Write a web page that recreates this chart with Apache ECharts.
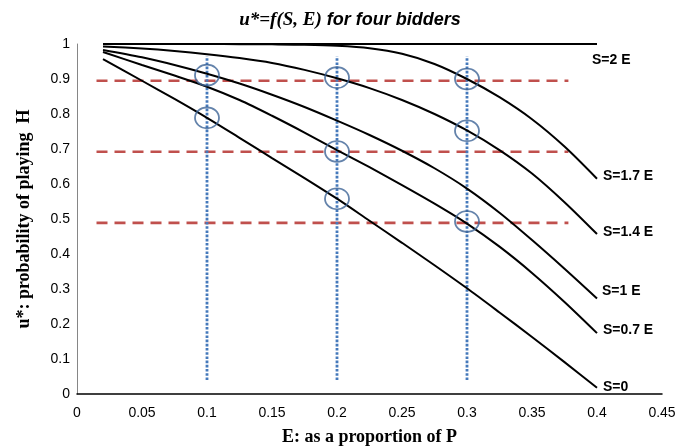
<!DOCTYPE html>
<html>
<head>
<meta charset="utf-8">
<script src="https://cdn.jsdelivr.net/npm/echarts@6/dist/echarts.min.js"></script>
<style>html,body{margin:0;padding:0;background:#fff}#c{width:677px;height:446px}</style>
</head>
<body>
<div id="c"></div>
<script>
// E values (proportion of P)
const E = [0.02, 0.05, 0.075, 0.1, 0.125, 0.15, 0.175, 0.2, 0.225, 0.25, 0.275, 0.3, 0.325, 0.35, 0.375, 0.4];
const seriesNames = ['S=2 E', 'S=1.7 E', 'S=1.4 E', 'S=1 E', 'S=0.7 E', 'S=0'];
const uS2   = [1, 1, 1, 1, 1, 1, 1, 1, 1, 1, 1, 1, 1, 1, 1, 1];
const uS17  = [1, 1, 1, 1, 0.9995, 0.999, 0.998, 0.995, 0.988, 0.972, 0.943, 0.9, 0.848, 0.785, 0.707, 0.615];
const uS14  = [0.993, 0.987, 0.98, 0.971, 0.96, 0.946, 0.926, 0.902, 0.874, 0.84, 0.8, 0.753, 0.697, 0.63, 0.548, 0.457];
const uS1   = [0.983, 0.962, 0.94, 0.915, 0.887, 0.855, 0.82, 0.781, 0.74, 0.695, 0.645, 0.587, 0.518, 0.44, 0.358, 0.273];
const uS07  = [0.977, 0.94, 0.91, 0.878, 0.84, 0.795, 0.747, 0.697, 0.648, 0.597, 0.544, 0.487, 0.421, 0.346, 0.263, 0.174];
const uS0   = [0.957, 0.895, 0.843, 0.789, 0.732, 0.674, 0.617, 0.558, 0.495, 0.432, 0.368, 0.302, 0.233, 0.163, 0.091, 0.018];
const curves = [uS2, uS17, uS14, uS1, uS07, uS0];

// horizontal reference levels (red dashed) and their E range
const hLevels = [0.895, 0.692, 0.489];
const hRange = [0.015, 0.378];
// vertical reference E values (blue dotted) and their u range
const vLevels = [0.1, 0.2, 0.3];
const vRange = [0.04, 0.965];
// circled points
const circleE = [0.1, 0.1, 0.2, 0.2, 0.2, 0.3, 0.3, 0.3];
const circleU = [0.911, 0.789, 0.904, 0.693, 0.558, 0.9, 0.752, 0.493];

const xTickLabels = ['0', '0.05', '0.1', '0.15', '0.2', '0.25', '0.3', '0.35', '0.4', '0.45'];
const yTickLabels = ['0', '0.1', '0.2', '0.3', '0.4', '0.5', '0.6', '0.7', '0.8', '0.9', '1'];

const labelOffsets = [[-11, 16], [0, -3], [0, -2], [-1, -7], [0, -3], [0, -1]];

const series = [];
hLevels.forEach(function (v) {
  series.push({
    type: 'line', silent: true, symbol: 'none', z: 1,
    data: [[hRange[0], v], [hRange[1], v]],
    lineStyle: { color: '#c0504d', width: 2.6, type: [11, 7] }
  });
});
vLevels.forEach(function (e) {
  series.push({
    type: 'line', silent: true, symbol: 'none', z: 1,
    data: [[e, vRange[0]], [e, vRange[1]]],
    lineStyle: { color: '#4579bb', width: 2.8, type: [2.6, 1.6] }
  });
});
curves.forEach(function (arr, i) {
  series.push({
    name: seriesNames[i], type: 'line', symbol: 'none', smooth: 0.3, z: 3,
    data: E.map(function (e, j) { return [e, arr[j]]; }),
    lineStyle: { color: '#000', width: 2 },
    endLabel: {
      show: true, formatter: seriesNames[i], distance: 6, offset: labelOffsets[i],
      fontFamily: 'Liberation Sans', fontWeight: 'bold', fontSize: 14, color: '#000'
    }
  });
});
series.push({
  type: 'scatter', silent: true, z: 5,
  data: circleE.map(function (e, i) { return [e, circleU[i]]; }),
  symbol: 'circle', symbolSize: [24, 21],
  itemStyle: { color: 'rgba(0,0,0,0)', borderColor: '#3d6496', borderWidth: 1.7 }
});

const chart = echarts.init(document.getElementById('c'), null, { renderer: 'canvas' });
chart.setOption({
  animation: false,
  backgroundColor: '#fff',
  title: {
    text: '{a|u*=f(S, E)}{b| for four bidders}',
    left: 345, top: 6, textAlign: 'center',
    textStyle: {
      rich: {
        a: { fontFamily: 'Liberation Serif', fontStyle: 'italic', fontWeight: 'bold', fontSize: 19, color: '#000' },
        b: { fontFamily: 'Liberation Sans', fontStyle: 'italic', fontWeight: 'bold', fontSize: 18, color: '#000' }
      }
    }
  },
  grid: { left: 77, right: 15, top: 44, bottom: 52, containLabel: false, outerBoundsMode: 'none' },
  xAxis: {
    type: 'value', min: 0, max: 0.45, interval: 0.05,
    name: 'E: as a proportion of P', nameLocation: 'middle', nameGap: 34,
    nameTextStyle: { fontFamily: 'Liberation Serif', fontWeight: 'bold', fontSize: 18, color: '#000' },
    axisLine: { show: true, onZero: false, lineStyle: { color: '#000', width: 1.5 } },
    axisTick: { show: false },
    splitLine: { show: false },
    axisLabel: {
      margin: 12, fontFamily: 'Liberation Sans', fontSize: 14, color: '#000',
      formatter: function (v) { return xTickLabels[Math.round(v / 0.05)]; }
    }
  },
  yAxis: {
    type: 'value', min: 0, max: 1, interval: 0.1,
    name: 'u*: probability of playing  H', nameLocation: 'middle', nameGap: 44,
    nameTextStyle: { fontFamily: 'Liberation Serif', fontWeight: 'bold', fontSize: 18, color: '#000' },
    axisLine: { show: true, lineStyle: { color: '#868686', width: 1 } },
    axisTick: { show: false },
    splitLine: { show: false },
    axisLabel: {
      margin: 7, fontFamily: 'Liberation Sans', fontSize: 14, color: '#000',
      formatter: function (v) { return yTickLabels[Math.round(v / 0.1)]; }
    }
  },
  series: series
});
</script>
</body>
</html>
